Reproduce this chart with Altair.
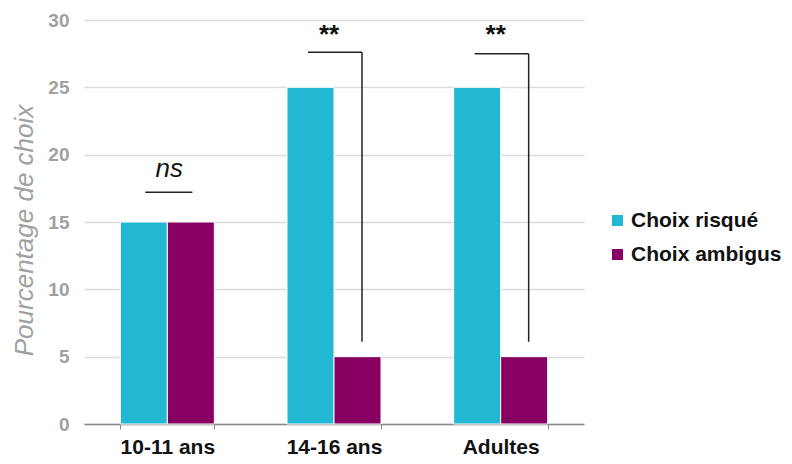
import altair as alt
import pandas as pd

categories = ["10-11 ans", "14-16 ans", "Adultes"]
series = ["Choix risqué", "Choix ambigus"]
risque = [15, 25, 25]
ambigu = [15, 5, 5]
colors = ["#22B8D4", "#880062"]

# significance annotations
ns_groups = ["10-11 ans"]
ns_labels = ["ns"]
ns_text_level = [18.9]
ns_line_level = [17.2]
star_groups = ["14-16 ans", "Adultes"]
star_labels = ["**", "**"]
star_text_level = [28.9, 28.9]
bracket_top = [27.6, 27.5]
bracket_bottom = [6.1, 6.1]

rows = []
for i, c in enumerate(categories):
    rows.append({"groupe": c, "serie": series[0], "valeur": risque[i]})
    rows.append({"groupe": c, "serie": series[1], "valeur": ambigu[i]})
df = pd.DataFrame(rows)

df_ns = pd.DataFrame({"groupe": ns_groups, "label": ns_labels, "texte": ns_text_level, "ligne": ns_line_level})
df_st = pd.DataFrame({"groupe": star_groups, "label": star_labels, "texte": star_text_level,
                      "haut": bracket_top, "bas": bracket_bottom})

FONT = "Arial"

xenc = alt.X(
    "groupe:N",
    sort=categories,
    title=None,
    scale=alt.Scale(paddingInner=0.436, paddingOuter=0.218),
    axis=alt.Axis(
        labelAngle=0,
        labelFont=FONT,
        labelFontSize=21,
        labelFontWeight="bold",
        labelColor="#111111",
        labelPadding=7,
        domainColor="#888888",
        domainWidth=1.5,
        tickColor="#888888",
        tickSize=5,
        tickBand="extent",
        grid=False,
    ),
)

yscale = alt.Scale(domain=[0, 30])

bars = alt.Chart(df).mark_bar(stroke="white", strokeWidth=1).encode(
    x=xenc,
    xOffset=alt.XOffset("serie:N", sort=series, scale=alt.Scale(paddingInner=0.0)),
    y=alt.Y(
        "valeur:Q",
        scale=yscale,
        title="Pourcentage de choix",
        axis=alt.Axis(
            values=[0, 5, 10, 15, 20, 25, 30],
            labelFont=FONT,
            labelFontSize=19,
            labelFontWeight="bold",
            labelColor="#a0a0a0",
            labelPadding=15,
            domain=False,
            ticks=False,
            gridColor="#dcdcdc",
            gridWidth=1.5,
            titleFont=FONT,
            titleFontSize=26,
            titleFontStyle="italic",
            titleFontWeight="normal",
            titleColor="#a0a0a0",
            titleX=-60,
            titleY=210,
            titleAlign="center",
            titleBaseline="middle",
            titleAngle=270,
        ),
    ),
    color=alt.Color(
        "serie:N",
        sort=series,
        scale=alt.Scale(domain=series, range=colors),
        legend=alt.Legend(
            title=None,
            orient="none",
            legendX=523,
            legendY=190,
            symbolType="square",
            symbolSize=121,
            symbolStrokeWidth=0,
            labelFont=FONT,
            labelFontSize=21,
            labelFontWeight="bold",
            labelColor="#111111",
            labelOffset=3,
            rowPadding=12,
        ),
    ),
)

ns_text = alt.Chart(df_ns).mark_text(
    font=FONT, fontSize=26, fontStyle="italic", color="#111111", baseline="middle", dx=2
).encode(
    x=alt.X("groupe:N", sort=categories),
    y=alt.Y("texte:Q", scale=yscale),
    text="label:N",
)

ns_line = alt.Chart(df_ns).mark_rule(
    color="#222222", strokeWidth=1.5, xOffset=-22, x2Offset=25
).encode(
    x=alt.X("groupe:N", sort=categories),
    x2="groupe:N",
    y=alt.Y("ligne:Q", scale=yscale),
)

star_text = alt.Chart(df_st).mark_text(
    font=FONT, fontSize=26, fontWeight="bold", color="#111111", baseline="middle", dx=-5
).encode(
    x=alt.X("groupe:N", sort=categories),
    y=alt.Y("texte:Q", scale=yscale),
    text="label:N",
)

br_h = alt.Chart(df_st).mark_rule(
    color="#222222", strokeWidth=1.5, xOffset=-26, x2Offset=28
).encode(
    x=alt.X("groupe:N", sort=categories),
    x2="groupe:N",
    y=alt.Y("haut:Q", scale=yscale),
)

br_v = alt.Chart(df_st).mark_rule(
    color="#222222", strokeWidth=1.5, xOffset=28
).encode(
    x=alt.X("groupe:N", sort=categories),
    y=alt.Y("haut:Q", scale=yscale),
    y2="bas:Q",
)

chart = alt.layer(bars, ns_text, ns_line, star_text, br_h, br_v).properties(
    width=500,
    height=404,
    background="white",
    autosize=alt.AutoSizeParams(type="none"),
    padding={"left": 76, "top": 12, "right": 200, "bottom": 32},
).configure_view(stroke=None)

chart.save("out.html", embed_options={"renderer": "svg", "actions": False})
